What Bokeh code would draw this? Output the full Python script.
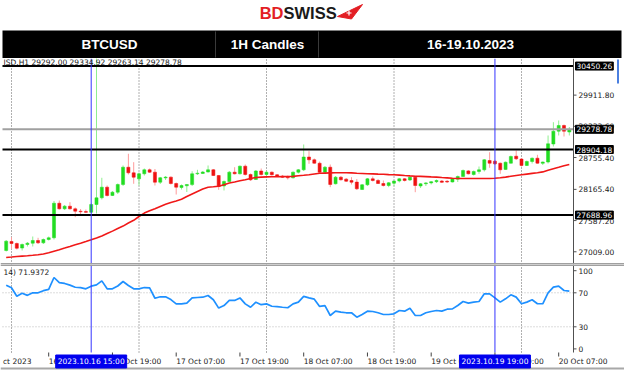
from bokeh.plotting import figure
from bokeh.layouts import column
from bokeh.models import Range1d, Label, ColumnDataSource
from bokeh.embed import file_html
from bokeh.resources import INLINE
from bokeh.core.properties import value

# ---------------- data ----------------
hours = list(range(-1, 106))   # hourly bars, hour 0 = 16 Oct 2023 00:00

opens = [27033, 27200, 27162, 27078, 27144, 27168, 27218, 27175, 27236, 27268,
         27909, 27805, 27854, 27805, 27761, 27754, 27742, 27885, 28009, 28206,
         28052, 28113, 28256, 28576, 28472, 28360, 28454, 28528, 28484, 28298,
         28378, 28392, 28274, 28200, 28232, 28254, 28454, 28460, 28487, 28528,
         28422, 28228, 28311, 28484, 28454, 28595, 28441, 28348, 28506, 28441,
         28484, 28436, 28409, 28391, 28380, 28484, 28528, 28765, 28713, 28650,
         28484, 28576, 28269, 28391, 28355, 28330, 28300, 28163, 28250, 28361,
         28330, 28274, 28237, 28280, 28320, 28361, 28339, 28391, 28228, 28269,
         28285, 28308, 28320, 28315, 28302, 28355, 28404, 28508, 28441, 28497,
         28528, 28700, 28687, 28650, 28535, 28650, 28780, 28728, 28608, 28682,
         28743, 28648, 28672, 29006, 29243, 29349, 29228]
highs = [27227, 27279, 27181, 27162, 27190, 27292, 27268, 27255, 27292, 27950,
         27959, 27876, 27928, 27830, 27801, 27792, 27904, 30700, 28380, 28237,
         28135, 28274, 28608, 28825, 28669, 28478, 28552, 28552, 28543, 28395,
         28413, 28405, 28293, 28256, 28265, 28502, 28528, 28506, 28608, 28543,
         28432, 28330, 28506, 28576, 28608, 28626, 28460, 28524, 28552, 28506,
         28497, 28450, 28432, 28422, 28497, 28543, 28997, 28873, 28737, 28682,
         28598, 28626, 28413, 28413, 28376, 28391, 28357, 28265, 28376, 28404,
         28357, 28330, 28302, 28330, 28376, 28376, 28404, 28404, 28283, 28302,
         28320, 28348, 28339, 28339, 28376, 28422, 28534, 28524, 28515, 28589,
         28728, 28854, 28710, 28663, 28682, 28793, 28886, 28746, 28700, 28756,
         28806, 28682, 29164, 29410, 29442, 29367, 29321]
lows = [27014, 27061, 27051, 27033, 27107, 27107, 27153, 27153, 27218, 27236,
        27792, 27783, 27792, 27650, 27700, 27727, 27727, 27718, 27978, 28033,
        28042, 28080, 28228, 28441, 28269, 28237, 28422, 28469, 28237, 28265,
        28339, 28255, 28070, 28163, 28117, 28228, 28432, 28450, 28478, 28413,
        28157, 28145, 28302, 28441, 28441, 28422, 28321, 28339, 28422, 28404,
        28422, 28395, 28376, 28348, 28367, 28460, 28506, 28639, 28641, 28469,
        28469, 28206, 28256, 28330, 28302, 28256, 28154, 28154, 28228, 28311,
        28265, 28218, 28206, 28228, 28293, 28311, 28320, 28113, 28191, 28228,
        28256, 28283, 28283, 28283, 28293, 28302, 28395, 28441, 28422, 28454,
        28497, 28565, 28617, 28454, 28528, 28645, 28710, 28589, 28598, 28645,
        28641, 28617, 28645, 28960, 29164, 29145, 29164]
closes = [27205, 27162, 27075, 27144, 27168, 27218, 27175, 27236, 27268, 27909,
          27805, 27854, 27805, 27761, 27750, 27740, 27885, 28009, 28206, 28052,
          28113, 28256, 28576, 28472, 28391, 28454, 28528, 28484, 28298, 28380,
          28392, 28274, 28206, 28237, 28256, 28454, 28465, 28487, 28528, 28422,
          28219, 28311, 28484, 28454, 28595, 28441, 28343, 28506, 28441, 28484,
          28436, 28409, 28391, 28380, 28484, 28528, 28765, 28713, 28650, 28484,
          28576, 28256, 28391, 28343, 28317, 28298, 28176, 28250, 28361, 28330,
          28274, 28237, 28287, 28320, 28361, 28330, 28391, 28237, 28269, 28285,
          28308, 28330, 28296, 28302, 28361, 28404, 28515, 28454, 28497, 28528,
          28713, 28650, 28639, 28528, 28669, 28775, 28732, 28608, 28682, 28743,
          28650, 28672, 29010, 29243, 29349, 29243, 29278.78]
ma_values = [26903, 26912, 26922, 26929, 26936, 26944, 26953, 26968, 26992, 27020,
             27048, 27077, 27107, 27138, 27168, 27199, 27231, 27266, 27303, 27348,
             27392, 27439, 27485, 27542, 27592, 27663, 27726, 27768, 27805, 27848,
             27889, 27922, 27950, 27981, 28033, 28080, 28126, 28172, 28206, 28213,
             28222, 28252, 28282, 28302, 28324, 28343, 28367, 28385, 28393, 28397,
             28398, 28400, 28402, 28404, 28406, 28417, 28426, 28437, 28450, 28463,
             28467, 28471, 28472, 28472, 28472, 28471, 28465, 28460, 28454, 28452,
             28448, 28445, 28439, 28435, 28430, 28422, 28415, 28409, 28406, 28402,
             28397, 28393, 28385, 28378, 28371, 28367, 28367, 28367, 28367, 28367,
             28367, 28367, 28371, 28380, 28393, 28408, 28422, 28435, 28448, 28461,
             28474, 28489, 28519, 28547, 28574, 28602, 28626]
rsi_values = [79, 76, 66, 69.5, 67, 70, 70, 72.5, 74, 88,
              82, 81, 79, 76.5, 76, 74.7, 77.8, 79.4, 84, 74.7,
              74.7, 78, 83.3, 78.6, 74.7, 74.7, 76.2, 75.9, 63.6, 65.3,
              65.3, 62, 57, 57, 57.8, 64, 64.5, 64.8, 66.8, 61.8,
              52, 55, 61, 61, 64, 57, 53, 59, 56, 57,
              54.2, 53.8, 53, 52.4, 57, 59, 65.8, 64, 62.5, 54,
              54.9, 43.3, 48.4, 47.2, 46.5, 46.5, 41.3, 44.5, 48.4, 48,
              46.5, 44.5, 44.5, 45.3, 49.2, 48.4, 51.9, 43.3, 43.3, 46.5,
              48, 49.2, 48.4, 50.7, 51.1, 55.1, 59.8, 57.8, 59, 59.8,
              68.8, 68.8, 64.1, 59, 62.9, 67.6, 64.9, 57.1, 59, 61.8,
              57.1, 57.1, 70, 76.6, 77.8, 72.7, 71.94]

sr_levels = [30450.26, 28904.18, 27688.96]
current_price = 29278.78
box_prices = [30450.26, 29278.78, 28904.18, 27688.96]
box_labels = ["30450.26", "29278.78", "28904.18", "27688.96"]
price_ticks = [29911.80, 29333.60, 28755.40, 28165.40, 27587.20, 27009.00]

rsi_ticks = [96, 70, 30, 4]
rsi_tick_labels = ["100", "70", "30", "0"]
rsi_levels = [70, 30]

day_start_hours = [0, 24, 48, 72, 96]
date_label_hours = [-1.6, 7, 19, 31, 43, 55, 67, 79, 91, 103]
date_labels = ["ct 2023", "16 Oct 07:00", "16 Oct 19:00", "17 Oct 07:00", "17 Oct 19:00",
               "18 Oct 07:00", "18 Oct 19:00", "19 Oct 07:00", "19 Oct 19:00", "20 Oct 07:00"]
cursor_hours = [15, 91]
cursor_labels = ["2023.10.16 15:00", "2023.10.19 19:00"]

titles = ["BTCUSD", "1H Candles", "16-19.10.2023"]
ohlc_text = "JSD.H1   29292.00 29334.92 29263.14 29278.78"
rsi_text = "14) 71.9372"

# ---------------- layout / style ----------------
W = 624
HDR_H, MAIN_H, RSI_H = 58, 206, 107
PX0, PXH = 11.0, 5.3125          # screen x of hour 0, pixels per hour


def hx(px):
    return (px - PX0) / PXH


X_MIN, X_MAX = hx(0), hx(W)
X_LEFT, X_AX = hx(2), hx(573)
X_TICK_END, X_LBL, X_BOX = hx(576), hx(578), hx(575)

P_PER_PX = 18.53


def pv(py):  # price at screen y (whole page coords)
    return 28904.18 - (py - 149) * P_PER_PX


P_MIN, P_MAX = pv(264), pv(58)


def rv(py):  # RSI value at screen y
    return 70 + (292.3 - py) / 0.85


R_MIN, R_MAX = rv(371), rv(264)
R_FB = rv(352)   # bottom of the RSI window

MT_FONT = "DejaVu Sans"
MT_SIZE = "7.5px"
TXT = "#202020"
AXC = "#505050"
UP, UP_WICK = "#22DD22", "#8FEF8F"
DN, DN_WICK = "#EE1111", "#FF9A9A"
BLUE = "#3535FF"


def bare(height, xr, yr):
    f = figure(width=W, height=height, x_range=xr, y_range=yr, toolbar_location=None,
               output_backend="svg", min_border=0, x_axis_location=None,
               y_axis_location=None, outline_line_color=None)
    f.xgrid.visible = False
    f.ygrid.visible = False
    return f


# ---------------- header ----------------
hdr = bare(HDR_H, Range1d(0, W), Range1d(HDR_H, 0))
hdr.text(x=[283], y=[12.5], text=["BD"], text_color="#E31E24", text_font=value("Liberation Sans"),
         text_font_style="bold", text_font_size="16.5px", text_align="right", text_baseline="middle")
hdr.text(x=[283], y=[12.5], text=["SWISS"], text_color="#1A1A1A", text_font=value("Liberation Sans"),
         text_font_style="bold", text_font_size="16.5px", text_align="left", text_baseline="middle")
hdr.patch(x=[337, 362, 351], y=[16, 4, 18.5], fill_color="#E31E24", line_color="#E31E24")
hdr.segment(x0=[346, 348.5], y0=[12.5, 10], x1=[351, 348.5], y1=[12.5, 15],
            line_color="white", line_width=1.2)
hdr.quad(left=[2], right=[621], top=[30], bottom=[58], fill_color="black", line_color=None)
hdr.segment(x0=[215, 318], y0=[31, 31], x1=[215, 318], y1=[57, 57], line_color="#3a3a3a", line_width=1)
hdr.text(x=[109, 267, 470], y=[44, 44, 44], text=titles, text_color="white",
         text_font=value("Liberation Sans"), text_font_style="bold", text_font_size="13.5px",
         text_align="center", text_baseline="middle")

# ---------------- main price chart ----------------
xr = Range1d(X_MIN, X_MAX)
main = bare(MAIN_H, xr, Range1d(P_MIN, P_MAX))

n_days = len(day_start_hours)
main.segment(x0=day_start_hours, y0=[P_MIN] * n_days, x1=day_start_hours, y1=[P_MAX] * n_days,
             line_color="#606060", line_dash="1 2", line_width=1)

up_i = [i for i in range(len(hours)) if closes[i] >= opens[i]]
dn_i = [i for i in range(len(hours)) if closes[i] < opens[i]]


def cds(idx):
    return ColumnDataSource(dict(
        x=[hours[i] for i in idx],
        top=[max(opens[i], closes[i]) for i in idx],
        bottom=[min(opens[i], closes[i]) for i in idx],
        high=[highs[i] for i in idx],
        low=[lows[i] for i in idx]))


src_up, src_dn = cds(up_i), cds(dn_i)
main.segment(x0="x", y0="low", x1="x", y1="high", source=src_up, line_color=UP_WICK, line_width=1)
main.segment(x0="x", y0="low", x1="x", y1="high", source=src_dn, line_color=DN_WICK, line_width=1)
main.vbar(x="x", width=0.58, top="top", bottom="bottom", source=src_up,
          fill_color=UP, line_color=UP, line_width=0.5)
main.vbar(x="x", width=0.58, top="top", bottom="bottom", source=src_dn,
          fill_color=DN, line_color=DN, line_width=0.5)
main.line(hours, ma_values, line_color="#F01818", line_width=1.6)

# horizontal levels
main.segment(x0=[X_LEFT] * len(sr_levels), y0=sr_levels, x1=[X_AX] * len(sr_levels), y1=sr_levels,
             line_color="black", line_width=2)
main.segment(x0=[X_LEFT], y0=[current_price], x1=[X_AX], y1=[current_price],
             line_color="#A0A0A0", line_width=2)
# cursor lines
main.segment(x0=cursor_hours, y0=[P_MIN] * 2, x1=cursor_hours, y1=[P_MAX] * 2,
             line_color=BLUE, line_width=1)
# price scale
main.segment(x0=[X_AX], y0=[P_MIN], x1=[X_AX], y1=[P_MAX], line_color=AXC, line_width=1)
main.segment(x0=[X_AX] * len(price_ticks), y0=price_ticks, x1=[X_TICK_END] * len(price_ticks),
             y1=price_ticks, line_color=AXC, line_width=1)
main.text(x=[X_LBL] * len(price_ticks), y=price_ticks, text=[f"{v:.2f}" for v in price_ticks],
          text_font=value(MT_FONT), text_font_size=MT_SIZE, text_color=TXT,
          text_align="left", text_baseline="middle")
# scroll marker at the right edge
main.segment(x0=[hx(617.5)], y0=[pv(59)], x1=[hx(617.5)], y1=[pv(83)],
             line_color="#4A7FE0", line_width=2)
# window separator
main.segment(x0=[X_MIN], y0=[P_MIN], x1=[X_MAX], y1=[P_MIN], line_color="#A0A0A0", line_width=3)

main.add_layout(Label(x=X_LEFT, y=pv(61.5), x_offset=1, text=ohlc_text,
                      text_font=MT_FONT, text_font_size=MT_SIZE, text_color=TXT,
                      text_baseline="middle", text_align="left"))
for pr, tx in zip(box_prices, box_labels):
    main.add_layout(Label(x=X_BOX, y=pr, text=tx, text_font=MT_FONT,
                          text_font_size=MT_SIZE, text_color="white", text_align="left",
                          text_baseline="middle", background_fill_color="black",
                          border_line_color="black", padding=1))

# ---------------- RSI panel ----------------
rsi = bare(RSI_H, xr, Range1d(R_MIN, R_MAX))
rsi.segment(x0=day_start_hours, y0=[R_FB] * n_days, x1=day_start_hours, y1=[R_MAX] * n_days,
            line_color="#606060", line_dash="1 2", line_width=1)
rsi.segment(x0=[X_LEFT] * 2, y0=rsi_levels, x1=[X_AX] * 2, y1=rsi_levels,
            line_color="#B8B8B8", line_dash="1 2", line_width=1)
rsi.line(hours, rsi_values, line_color="#1E90FF", line_width=1.7)
rsi.segment(x0=cursor_hours, y0=[R_FB] * 2, x1=cursor_hours, y1=[R_MAX] * 2,
            line_color=BLUE, line_width=1)
# RSI scale
rsi.segment(x0=[X_AX], y0=[R_FB], x1=[X_AX], y1=[R_MAX], line_color=AXC, line_width=1)
rsi.segment(x0=[X_AX] * len(rsi_ticks), y0=rsi_ticks, x1=[X_TICK_END] * len(rsi_ticks),
            y1=rsi_ticks, line_color=AXC, line_width=1)
rsi.text(x=[X_LBL] * len(rsi_ticks), y=rsi_ticks, text=rsi_tick_labels,
         text_font=value(MT_FONT), text_font_size=MT_SIZE, text_color=TXT,
         text_align="left", text_baseline="middle")
# separators
rsi.segment(x0=[X_MIN], y0=[R_MAX], x1=[X_MAX], y1=[R_MAX], line_color="#A0A0A0", line_width=3)
rsi.segment(x0=[X_MIN], y0=[rv(368)], x1=[X_MAX], y1=[rv(368)], line_color="#A8A8A8", line_width=2)

# time scale
tick_hours = date_label_hours[1:]
rsi.segment(x0=tick_hours, y0=[R_FB] * len(tick_hours), x1=tick_hours,
            y1=[rv(356)] * len(tick_hours), line_color="#404040", line_width=1)
date_y = rv(361)
rsi.text(x=date_label_hours, y=[date_y] * len(date_labels), text=date_labels,
         text_font=value(MT_FONT), text_font_size=MT_SIZE, text_color=TXT,
         text_align="left", text_baseline="middle")

rsi.add_layout(Label(x=X_LEFT, y=rv(271.7), x_offset=1, text=rsi_text,
                     text_font=MT_FONT, text_font_size=MT_SIZE, text_color=TXT,
                     text_baseline="middle", text_align="left"))
for h, tx in zip(cursor_hours, cursor_labels):
    rsi.add_layout(Label(x=h, y=date_y, text=tx, text_font=MT_FONT, text_font_size=MT_SIZE,
                         text_color="white", text_align="center", text_baseline="middle",
                         background_fill_color="#0000EE", border_line_color="#0000EE", padding=2))

layout = column(hdr, main, rsi, spacing=0)
open("out.html", "w").write(file_html(layout, INLINE))
